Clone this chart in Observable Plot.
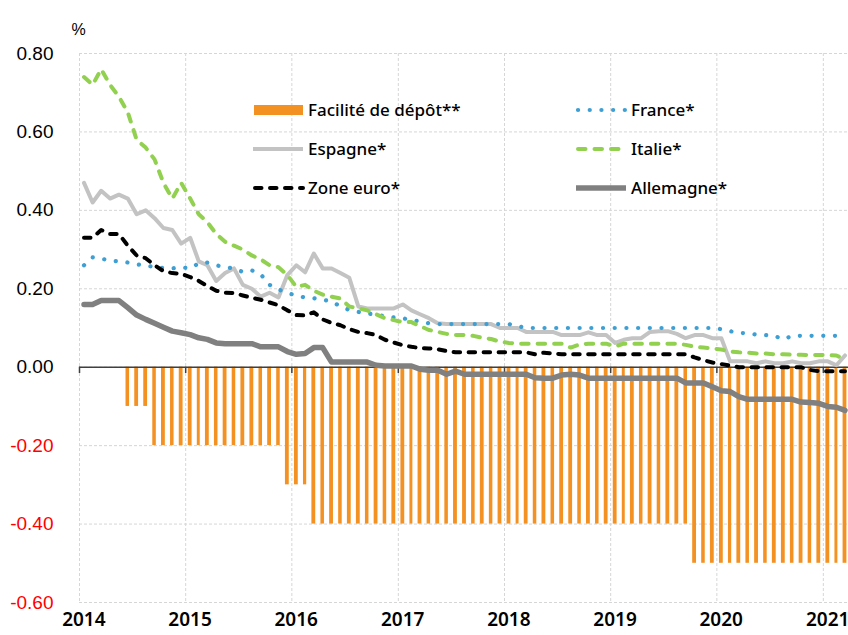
<!DOCTYPE html>
<html><head><meta charset="utf-8">
<script src="https://cdn.jsdelivr.net/npm/d3@7"></script>
<script src="https://cdn.jsdelivr.net/npm/@observablehq/plot@0.6"></script>
<style>body{margin:0;background:#fff}</style>
</head><body><div id="chart"></div>
<script>
// Monthly data, Jan 2014 – Mar 2021 (87 months)
const depot = [
  0,0,0,0,0,-0.10,-0.10,-0.10,-0.20,-0.20,-0.20,-0.20,
  -0.20,-0.20,-0.20,-0.20,-0.20,-0.20,-0.20,-0.20,-0.20,-0.20,-0.20,-0.30,
  -0.30,-0.30,-0.40,-0.40,-0.40,-0.40,-0.40,-0.40,-0.40,-0.40,-0.40,-0.40,
  -0.40,-0.40,-0.40,-0.40,-0.40,-0.40,-0.40,-0.40,-0.40,-0.40,-0.40,-0.40,
  -0.40,-0.40,-0.40,-0.40,-0.40,-0.40,-0.40,-0.40,-0.40,-0.40,-0.40,-0.40,
  -0.40,-0.40,-0.40,-0.40,-0.40,-0.40,-0.40,-0.40,-0.40,-0.50,-0.50,-0.50,
  -0.50,-0.50,-0.50,-0.50,-0.50,-0.50,-0.50,-0.50,-0.50,-0.50,-0.50,-0.50,
  -0.50,-0.50,-0.50
];
const france = [
  0.26,0.28,0.277,0.272,0.27,0.267,0.262,0.26,0.255,0.253,0.252,0.255,
  0.252,0.265,0.267,0.26,0.255,0.252,0.243,0.247,0.237,0.21,0.198,0.19,
  0.182,0.178,0.176,0.172,0.168,0.155,0.146,0.141,0.137,0.134,0.13,0.127,
  0.125,0.12,0.117,0.112,0.11,0.11,0.11,0.11,0.11,0.11,0.11,0.11,
  0.11,0.105,0.10,0.10,0.10,0.10,0.10,0.10,0.10,0.10,0.10,0.10,
  0.10,0.10,0.10,0.10,0.10,0.10,0.10,0.10,0.10,0.10,0.10,0.10,
  0.097,0.092,0.087,0.087,0.083,0.082,0.08,0.071,0.08,0.08,0.08,0.08,
  0.08,0.08,0.08
];
const espagne = [
  0.47,0.42,0.45,0.43,0.44,0.43,0.39,0.40,0.38,0.355,0.35,0.315,
  0.33,0.27,0.26,0.22,0.24,0.252,0.21,0.20,0.18,0.19,0.178,0.235,
  0.26,0.242,0.29,0.252,0.252,0.24,0.228,0.155,0.15,0.15,0.15,0.15,
  0.16,0.145,0.135,0.125,0.112,0.11,0.11,0.11,0.11,0.11,0.11,0.10,
  0.10,0.10,0.09,0.09,0.09,0.09,0.082,0.082,0.082,0.089,0.082,0.082,
  0.062,0.07,0.074,0.074,0.09,0.092,0.092,0.085,0.074,0.082,0.082,0.074,
  0.074,0.015,0.015,0.015,0.01,0.015,0.01,0.01,0.015,0.01,0.01,0.015,
  0.015,0.005,0.03
];
const italie = [
  0.74,0.72,0.76,0.72,0.69,0.65,0.58,0.56,0.53,0.47,0.43,0.47,
  0.43,0.39,0.37,0.34,0.32,0.31,0.30,0.285,0.275,0.26,0.255,0.235,
  0.205,0.21,0.195,0.185,0.18,0.175,0.155,0.15,0.145,0.135,0.125,0.12,
  0.115,0.115,0.105,0.095,0.09,0.085,0.082,0.082,0.08,0.075,0.072,0.065,
  0.062,0.06,0.06,0.06,0.06,0.06,0.06,0.05,0.058,0.06,0.06,0.06,
  0.053,0.06,0.06,0.06,0.06,0.06,0.06,0.06,0.057,0.052,0.05,0.048,
  0.045,0.04,0.038,0.037,0.035,0.035,0.033,0.033,0.032,0.032,0.031,0.031,
  0.031,0.03,0.02
];
const zoneEuro = [
  0.33,0.33,0.35,0.34,0.34,0.31,0.285,0.278,0.26,0.245,0.24,0.238,
  0.23,0.22,0.207,0.195,0.19,0.189,0.183,0.177,0.172,0.165,0.158,0.145,
  0.133,0.132,0.14,0.122,0.113,0.107,0.097,0.09,0.087,0.082,0.07,0.063,
  0.056,0.052,0.049,0.048,0.046,0.041,0.038,0.038,0.038,0.038,0.038,0.038,
  0.038,0.038,0.038,0.033,0.037,0.035,0.033,0.033,0.033,0.033,0.033,0.033,
  0.033,0.033,0.033,0.033,0.033,0.033,0.033,0.033,0.033,0.025,0.018,0.012,
  0.008,0.004,0,0,0,0,0,0,0,0,-0.007,-0.01,
  -0.01,-0.01,-0.01
];
const allemagne = [
  0.16,0.16,0.17,0.17,0.17,0.152,0.133,0.122,0.112,0.102,0.092,0.088,
  0.083,0.075,0.071,0.062,0.06,0.06,0.06,0.06,0.052,0.052,0.052,0.04,
  0.033,0.035,0.05,0.05,0.013,0.013,0.013,0.013,0.013,0.005,0.003,0.003,
  0.003,0.003,-0.005,-0.008,-0.008,-0.018,-0.01,-0.018,-0.018,-0.018,-0.018,-0.018,
  -0.018,-0.018,-0.018,-0.027,-0.028,-0.028,-0.02,-0.018,-0.02,-0.028,-0.028,-0.028,
  -0.028,-0.028,-0.028,-0.028,-0.028,-0.028,-0.028,-0.028,-0.04,-0.04,-0.04,-0.05,
  -0.06,-0.062,-0.075,-0.082,-0.082,-0.082,-0.082,-0.082,-0.082,-0.089,-0.09,-0.092,
  -0.10,-0.102,-0.11
];
const yTicks = [-0.6,-0.4,-0.2,0,0.2,0.4,0.6,0.8];
const yearLabels = ["2014","2015","2016","2017","2018","2019","2020","2021"];

const start = new Date(Date.UTC(2014,0,1));
const end = new Date(Date.UTC(2021,3,1));
const months = d3.utcMonth.range(start, end);
const midMonth = d => new Date((+d + +d3.utcMonth.offset(d,1))/2);
const rows = months.map((m,i) => ({
  month: m, date: midMonth(m), depot: depot[i], france: france[i], espagne: espagne[i],
  italie: italie[i], zoneEuro: zoneEuro[i], allemagne: allemagne[i]
}));
const years = yearLabels.map(y => new Date(Date.UTC(+y,0,1)));

const styles = {
  espagne:   {stroke:"#c3c3c3", strokeWidth:4},
  france:    {stroke:"#3d9fd3", strokeWidth:4.2, strokeDasharray:"0.1,11.6", strokeLinecap:"round"},
  italie:    {stroke:"#92d050", strokeWidth:4, strokeDasharray:"7.5,9", strokeLinecap:"round"},
  zoneEuro:  {stroke:"#000000", strokeWidth:4, strokeDasharray:"6.5,8.5", strokeLinecap:"round"},
  allemagne: {stroke:"#808080", strokeWidth:5.5}
};
const lineMark = key => Plot.line(rows, {x:"date", y:key, strokeLinejoin:"round", ...styles[key]});
const ARIAL = "Liberation Sans";
const LEG = "Noto Sans";

const chart = Plot.plot({
  width: 848, height: 635,
  marginLeft: 79, marginRight: 0, marginTop: 53, marginBottom: 33,
  style: {fontSize: "19px", background: "#fff", overflow: "visible"},
  x: {type: "utc", domain: [start, end], range: [79, 849], axis: null},
  y: {domain: [-0.6, 0.8], axis: null},
  marks: [
    Plot.ruleY(yTicks, {stroke:"#d6d6d6", strokeDasharray:"3,2"}),
    Plot.ruleX(years, {stroke:"#d6d6d6", strokeDasharray:"3,2"}),
    Plot.rectY(rows, {x:"month", y:"depot", interval:"month", fill:"#f39122", insetLeft:2.6, insetRight:2.6}),
    Plot.ruleY([0], {stroke:"#404040", strokeWidth:1.5}),
    Plot.ruleX(years, {x:d=>d, y1:0, y2:-0.016, stroke:"#404040", strokeWidth:1.5}),
    lineMark("espagne"),
    lineMark("france"),
    lineMark("italie"),
    lineMark("zoneEuro"),
    lineMark("allemagne"),
    Plot.text(yTicks, {y:d=>d, text:d=>d.toFixed(2), frameAnchor:"left", textAnchor:"end", dx:-26,
      fill:d=>d<0?"#ff0000":"#000000", fontSize:19, fontFamily:ARIAL}),
    Plot.text(years, {x:d=>d3.utcDay.offset(d,15), text:(d,i)=>yearLabels[i], frameAnchor:"bottom", dy:23,
      fontFamily:LEG, fontWeight:600, fontSize:19, fill:"#000"}),
    Plot.text(["%"], {frameAnchor:"top-left", dx:-8, dy:-30, fontSize:16, fontFamily:ARIAL, fill:"#000"})
  ]
});
document.getElementById("chart").appendChild(chart);

// Legend (inside plot area)
const legend = [
  {key:"depot", label:"Facilité de dépôt**", x:253, y:110},
  {key:"france", label:"France*", x:576, y:110},
  {key:"espagne", label:"Espagne*", x:253, y:149},
  {key:"italie", label:"Italie*", x:576, y:149},
  {key:"zoneEuro", label:"Zone euro*", x:253, y:188},
  {key:"allemagne", label:"Allemagne*", x:576, y:188}
];
const svg = d3.select(chart);
const g = svg.append("g");
legend.forEach(it => {
  if (it.key === "depot") {
    g.append("rect").attr("x", it.x+1).attr("y", it.y-5).attr("width", 49).attr("height", 10).attr("fill", "#f39122");
  } else {
    const s = styles[it.key];
    g.append("line").attr("x1", it.x + (s.strokeLinecap ? 2 : 0)).attr("x2", it.x + 50).attr("y1", it.y).attr("y2", it.y)
      .attr("stroke", s.stroke).attr("stroke-width", s.strokeWidth)
      .attr("stroke-dasharray", s.strokeDasharray || null).attr("stroke-linecap", s.strokeLinecap || "butt");
  }
  g.append("text").attr("x", it.x + 55).attr("y", it.y).attr("dy", "0.35em")
    .attr("text-anchor", "start").attr("font-family", LEG).attr("font-size", 17).attr("font-weight", 500)
    .attr("fill", "#000").text(it.label);
});
</script></body></html>
